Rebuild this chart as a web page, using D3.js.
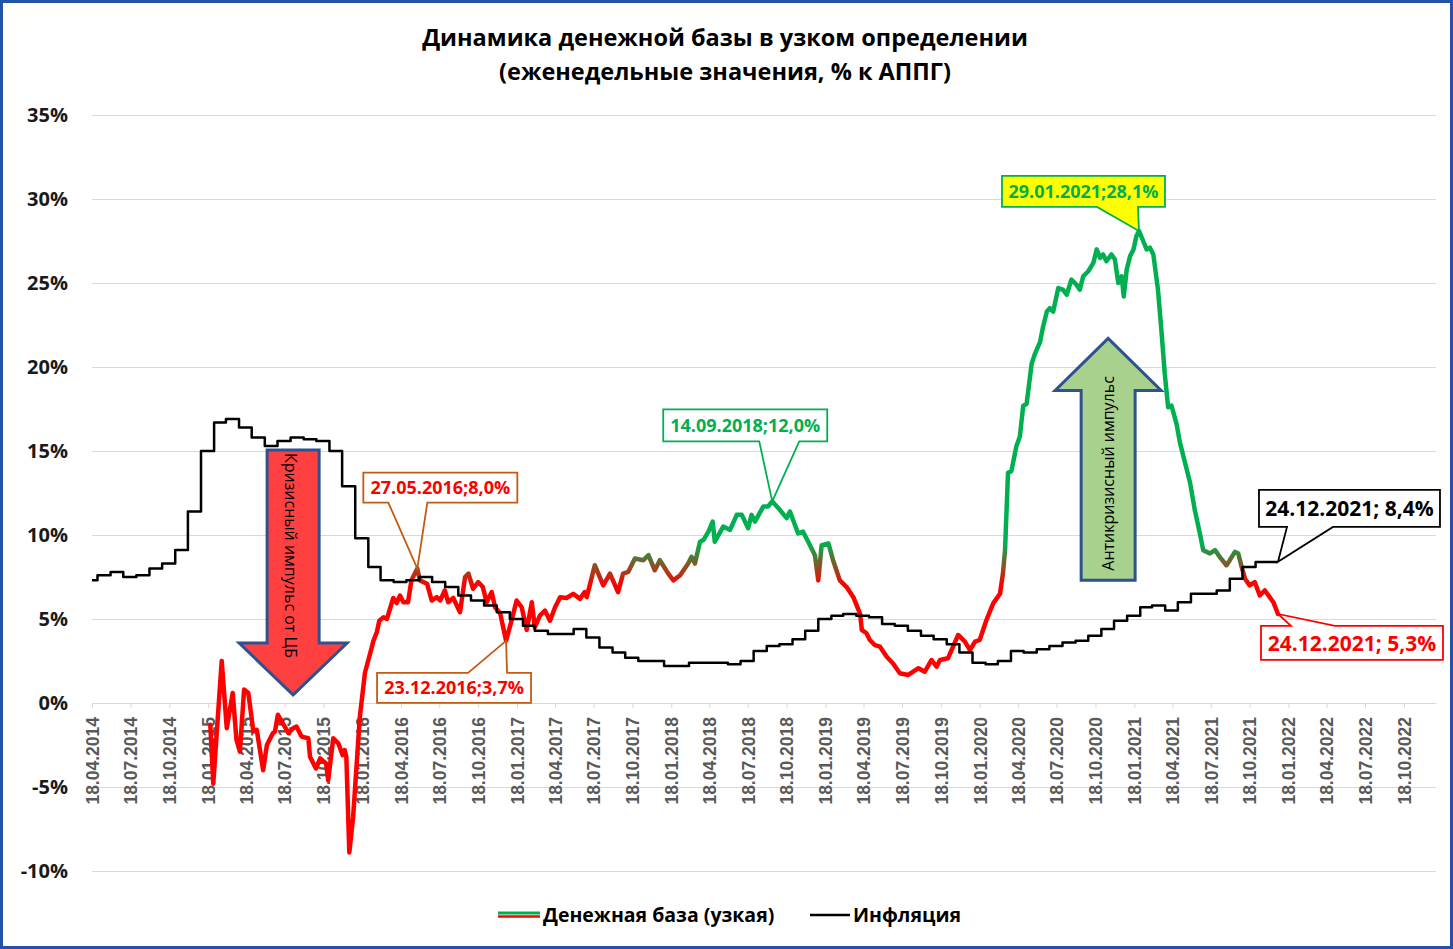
<!DOCTYPE html>
<html>
<head>
<meta charset="utf-8">
<script src="https://cdn.jsdelivr.net/npm/d3@7"></script>
<style>
  body { margin: 0; background: #fff; }
  svg { display: block; }
</style>
</head>
<body>
<svg id="chart"></svg>
<script>
var width = 1453;
var height = 949;

// ---- data ----
var titleLines = ["Динамика денежной базы в узком определении", "(еженедельные значения, % к АППГ)"];
var seriesNames = ["Денежная база (узкая)", "Инфляция"];

var yTicks = [-10, -5, 0, 5, 10, 15, 20, 25, 30, 35];
var tickLabels = [
  "18.04.2014","18.07.2014","18.10.2014","18.01.2015","18.04.2015","18.07.2015","18.10.2015",
  "18.01.2016","18.04.2016","18.07.2016","18.10.2016","18.01.2017","18.04.2017","18.07.2017",
  "18.10.2017","18.01.2018","18.04.2018","18.07.2018","18.10.2018","18.01.2019","18.04.2019",
  "18.07.2019","18.10.2019","18.01.2020","18.04.2020","18.07.2020","18.10.2020","18.01.2021",
  "18.04.2021","18.07.2021","18.10.2021","18.01.2022","18.04.2022","18.07.2022","18.10.2022"
];

// inflation, % y/y, one value per month starting April 2014
var inflStart = "2014-04-18";
var inflValues = [
  7.3, 7.6, 7.8, 7.5, 7.6, 8.0, 8.3, 9.1, 11.4,
  15.0, 16.7, 16.9, 16.4, 15.8, 15.3, 15.6, 15.8, 15.7, 15.6, 15.0, 12.9,
  9.8, 8.1, 7.3, 7.2, 7.3, 7.5, 7.2, 6.9, 6.4, 6.1, 5.8, 5.4,
  5.0, 4.6, 4.3, 4.1, 4.1, 4.4, 3.9, 3.3, 3.0, 2.7, 2.5, 2.5,
  2.2, 2.2, 2.4, 2.4, 2.4, 2.3, 2.5, 3.1, 3.4, 3.5, 3.8, 4.3,
  5.0, 5.2, 5.3, 5.2, 5.1, 4.7, 4.6, 4.3, 4.0, 3.8, 3.5, 3.0,
  2.4, 2.3, 2.5, 3.1, 3.0, 3.2, 3.4, 3.6, 3.7, 4.0, 4.4, 4.9,
  5.2, 5.7, 5.8, 5.5, 6.0, 6.5, 6.5, 6.7, 7.4, 8.1, 8.4, 8.4
];
var inflEnd = "2021-12-24";

// narrow money base, % y/y (weekly, sampled)
var baseDates = [
  "2015-01-23","2015-01-30","2015-02-19","2015-03-03","2015-03-17","2015-03-26","2015-04-03","2015-04-13",
  "2015-04-23","2015-05-05","2015-05-13","2015-05-28","2015-06-06","2015-06-20","2015-06-25","2015-07-02",
  "2015-07-11","2015-07-27","2015-08-07","2015-08-15","2015-08-27","2015-09-12","2015-09-16","2015-09-30",
  "2015-10-10","2015-10-24","2015-10-29","2015-11-10","2015-11-22","2015-12-02","2015-12-07","2015-12-11",
  "2015-12-18","2015-12-27","2016-01-12","2016-01-24","2016-02-09","2016-02-13","2016-02-21","2016-02-27",
  "2016-03-08","2016-03-16","2016-03-31","2016-04-08","2016-04-16","2016-04-24","2016-05-05","2016-05-13",
  "2016-05-27","2016-06-02","2016-06-19","2016-06-30","2016-07-12","2016-07-20","2016-07-31","2016-08-08",
  "2016-08-20","2016-09-05","2016-09-17","2016-09-25","2016-10-06","2016-10-18","2016-10-29","2016-11-07",
  "2016-11-19","2016-11-27","2016-12-09","2016-12-23","2017-01-05","2017-01-17","2017-01-29","2017-02-10",
  "2017-02-22","2017-03-01","2017-03-13","2017-03-25","2017-04-06","2017-04-18","2017-04-30","2017-05-15",
  "2017-05-31","2017-06-16","2017-06-27","2017-07-02","2017-07-10","2017-07-21","2017-08-10","2017-08-26",
  "2017-09-14","2017-09-26","2017-10-08","2017-10-24","2017-11-13","2017-11-25","2017-12-10","2017-12-22",
  "2018-01-11","2018-01-23","2018-02-08","2018-02-27","2018-03-07","2018-03-15","2018-03-27","2018-04-04",
  "2018-04-16","2018-04-26","2018-05-01","2018-05-21","2018-06-06","2018-06-22","2018-07-04","2018-07-19",
  "2018-07-27","2018-08-04","2018-08-24","2018-09-04","2018-09-14","2018-10-02","2018-10-18","2018-10-26",
  "2018-11-14","2018-11-26","2018-12-12","2018-12-24","2019-01-01","2019-01-09","2019-01-25","2019-02-05",
  "2019-02-21","2019-03-09","2019-03-25","2019-04-10","2019-04-14","2019-04-25","2019-05-03","2019-05-15",
  "2019-05-27","2019-06-12","2019-06-27","2019-07-13","2019-08-02","2019-08-26","2019-09-10","2019-09-26",
  "2019-10-08","2019-10-16","2019-11-04","2019-11-16","2019-11-28","2019-12-14","2019-12-26","2020-01-07",
  "2020-01-18","2020-02-03","2020-02-19","2020-03-06","2020-03-13","2020-03-18","2020-03-25","2020-04-02",
  "2020-04-14","2020-04-22","2020-04-30","2020-05-08","2020-05-20","2020-05-28","2020-06-09","2020-06-16",
  "2020-06-25","2020-07-02","2020-07-10","2020-07-22","2020-08-02","2020-08-11","2020-08-22","2020-09-03",
  "2020-09-11","2020-09-19","2020-10-01","2020-10-13","2020-10-21","2020-10-29","2020-11-05","2020-11-13",
  "2020-11-25","2020-12-03","2020-12-11","2020-12-19","2020-12-24","2020-12-31","2021-01-08","2021-01-16",
  "2021-01-23","2021-01-29","2021-02-08","2021-02-16","2021-02-24","2021-03-04","2021-03-15","2021-03-23",
  "2021-03-31","2021-04-08","2021-04-16","2021-04-28","2021-05-06","2021-05-18","2021-05-30","2021-06-10",
  "2021-06-22","2021-06-30","2021-07-16","2021-07-28","2021-08-08","2021-08-24","2021-09-01","2021-09-13",
  "2021-09-21","2021-09-29","2021-10-07","2021-10-18","2021-10-30","2021-11-11","2021-11-23","2021-12-13",
  "2021-12-24"
];
var baseValues = [
  -1.3, -4.8, 2.5, -1.5, 0.6, -2.2, -2.9, 0.8,
  0.6, -1.7, -1.6, -4.0, -2.5, -1.8, -1.7, -0.7,
  -1.1, -1.8, -1.5, -1.4, -2.0, -2.1, -3.2, -3.9,
  -3.3, -3.6, -4.6, -2.1, -2.4, -3.1, -2.8, -3.2,
  -8.9, -6.8, -0.8, 1.8, 3.3, 3.7, 4.2, 4.9,
  5.1, 5.0, 6.25, 5.95, 6.4, 6.0, 6.0, 7.3,
  8.0, 7.3, 7.1, 6.1, 6.3, 6.1, 6.7, 6.0,
  6.25, 5.4, 7.5, 7.7, 6.8, 7.2, 6.9, 6.0,
  6.6, 5.7, 5.35, 3.7, 4.9, 6.1, 5.7, 4.35,
  6.0, 4.5, 5.2, 5.5, 4.9, 5.7, 6.3, 6.25,
  6.5, 6.2, 6.6, 6.3, 7.1, 8.2, 7.0, 7.7,
  6.6, 7.7, 7.8, 8.6, 8.5, 8.8, 7.9, 8.5,
  7.7, 7.3, 7.6, 8.3, 8.7, 8.3, 9.6, 9.7,
  10.2, 10.8, 9.6, 10.5, 10.3, 11.2, 11.2, 10.4,
  11.2, 10.8, 11.7, 11.7, 12.0, 11.5, 11.0, 11.4,
  10.1, 10.2, 9.4, 8.8, 7.3, 9.4, 9.5, 8.5,
  7.3, 6.9, 6.3, 5.3, 4.35, 4.15, 3.75, 3.45,
  3.35, 2.75, 2.35, 1.77, 1.67, 2.07, 1.86, 2.56,
  2.16, 2.56, 2.66, 3.35, 4.05, 3.65, 3.15, 3.65,
  3.75, 4.94, 5.93, 6.5, 7.7, 9.1, 13.7, 13.8,
  15.3, 15.85, 17.7, 17.8, 20.2, 20.8, 21.5, 22.4,
  23.3, 23.5, 23.3, 24.7, 24.6, 24.3, 25.2, 24.9,
  24.6, 25.4, 25.7, 26.2, 27.0, 26.5, 26.7, 26.3,
  26.7, 26.4, 25.0, 25.4, 24.2, 25.8, 26.6, 27.0,
  27.8, 28.1, 27.5, 27.0, 27.1, 26.7, 24.6, 22.2,
  19.6, 17.6, 17.7, 16.6, 15.5, 14.3, 13.1, 11.5,
  10.1, 9.1, 8.9, 9.1, 8.7, 8.2, 8.5, 9.0,
  8.9, 8.1, 7.4, 7.0, 7.2, 6.4, 6.7, 6.0,
  5.3
];

// labelled points
var calloutDates = ["2016-05-27", "2016-12-23", "2018-09-14", "2021-01-29", "2021-12-24", "2021-12-24"];
var calloutValues = [8.0, 3.7, 12.0, 28.1, 8.4, 5.3];

var arrowTexts = ["Кризисный импульс от ЦБ", "Антикризисный импульс"];

// ---- scales ----
var parse = d3.timeParse("%Y-%m-%d");
var parseTick = d3.timeParse("%d.%m.%Y");
var fmtDate = d3.timeFormat("%d.%m.%Y");

var left = 92, right = 1436;
var x = d3.scaleTime()
    .domain([parse("2014-04-18"), parse("2023-01-02")])
    .range([left, right]);
var y = d3.scaleLinear()
    .domain([-10, 35])
    .range([871, 115]);

var baseData = baseDates.map((d, i) => ({date: parse(d), value: baseValues[i]}));

var inflData = inflValues.map((v, i) => {
  var d = d3.timeMonth.offset(parse("2014-04-01"), i);
  return {date: i === 0 ? parse(inflStart) : d, value: v};
});
inflData.push({date: parse(inflEnd), value: inflValues[inflValues.length - 1]});

var svg = d3.select("#chart")
    .attr("width", width)
    .attr("height", height);

svg.append("rect")
    .attr("x", 1.5).attr("y", 1.5)
    .attr("width", width - 3).attr("height", height - 3)
    .attr("fill", "#fff")
    .attr("stroke", "#2352a8")
    .attr("stroke-width", 3);

// title
svg.append("g").selectAll("text")
  .data(titleLines)
  .enter().append("text")
    .attr("x", 725)
    .attr("y", (d, i) => 46 + i * 34)
    .attr("text-anchor", "middle")
    .style("font-family", "'Open Sans', sans-serif")
    .style("font-weight", "bold")
    .style("font-size", "23.5px")
    .style("fill", "#000")
    .text(d => d);

// y axis + grid
var yAxis = d3.axisLeft(y)
    .tickValues(yTicks)
    .tickSize(-(right - left))
    .tickFormat(d => d + "%");

svg.append("g")
    .attr("transform", "translate(" + left + ",0)")
    .call(yAxis)
    .call(g => g.select(".domain").remove())
    .call(g => g.selectAll(".tick line").attr("stroke", "#d9d9d9"))
    .call(g => g.selectAll(".tick text")
        .attr("x", -24)
        .style("font-family", "'Open Sans', sans-serif")
        .style("font-weight", "bold")
        .style("font-size", "20px")
        .style("fill", "#1a1a1a"));

// x axis at 0%
var xAxis = d3.axisBottom(x)
    .tickValues(tickLabels.map(parseTick))
    .tickFormat(fmtDate)
    .tickSize(5)
    .tickSizeOuter(0);

svg.append("g")
    .attr("transform", "translate(0," + y(0) + ")")
    .call(xAxis)
    .call(g => g.select(".domain").attr("stroke", "#d9d9d9"))
    .call(g => g.selectAll(".tick line").attr("stroke", "#d9d9d9"))
    .call(g => g.selectAll(".tick text")
        .attr("transform", "rotate(-90)")
        .attr("text-anchor", "end")
        .attr("x", -14)
        .attr("y", 0)
        .attr("dy", "0.36em")
        .style("font-family", "'Liberation Sans', Arial, sans-serif")
        .style("font-weight", "bold")
        .style("font-size", "17.5px")
        .style("fill", "#595959"));

// colour of money base line depends on level
var defs = svg.append("defs");
var grad = defs.append("linearGradient")
    .attr("id", "baseGrad")
    .attr("gradientUnits", "userSpaceOnUse")
    .attr("x1", 0).attr("x2", 0)
    .attr("y1", y(9.5)).attr("y2", y(7.0));
grad.append("stop").attr("offset", 0).attr("stop-color", "#00b050");
grad.append("stop").attr("offset", 1).attr("stop-color", "#ff0000");

var baseLine = d3.line()
    .x(d => x(d.date))
    .y(d => y(d.value));

var inflLine = d3.line()
    .curve(d3.curveStepAfter)
    .x(d => x(d.date))
    .y(d => y(d.value));

svg.append("path")
    .datum(baseData)
    .attr("fill", "none")
    .attr("stroke", "url(#baseGrad)")
    .attr("stroke-width", 4.5)
    .attr("stroke-linejoin", "round")
    .attr("stroke-linecap", "round")
    .attr("d", baseLine);

svg.append("path")
    .datum(inflData)
    .attr("fill", "none")
    .attr("stroke", "#000")
    .attr("stroke-width", 2.5)
    .attr("stroke-linejoin", "round")
    .attr("d", inflLine);

// block arrows
function arrowDown(cx, top, neck, tip, bw, hw) {
  return "M" + (cx - bw) + "," + top + "H" + (cx + bw) + "V" + neck + "H" + (cx + hw) +
    "L" + cx + "," + tip + "L" + (cx - hw) + "," + neck + "H" + (cx - bw) + "Z";
}
var ax1 = x(parse("2015-08-07"));
svg.append("path")
    .attr("d", arrowDown(ax1, y(15.06), y(3.57), y(0.48), 26, 54))
    .attr("fill", "#ff4040")
    .attr("stroke", "#2f528f")
    .attr("stroke-width", 3);
svg.append("text")
    .attr("transform", "translate(" + (ax1 - 3) + "," + ((y(15.06) + y(3.57)) / 2 + 9) + ") rotate(90)")
    .attr("text-anchor", "middle")
    .attr("dy", "0.35em")
    .style("font-family", "'Open Sans', sans-serif")
    .style("font-size", "16px")
    .style("fill", "#000")
    .text(arrowTexts[0]);

var ax2 = x(parse("2020-11-17"));
svg.append("path")
    .attr("d", arrowDown(ax2, y(7.3), y(18.6), y(21.7), 27, 53))
    .attr("fill", "#a9d18e")
    .attr("stroke", "#2f528f")
    .attr("stroke-width", 3);
svg.append("text")
    .attr("transform", "translate(" + ax2 + "," + ((y(7.3) + y(18.6)) / 2 - 12) + ") rotate(-90)")
    .attr("text-anchor", "middle")
    .attr("dy", "0.35em")
    .style("font-family", "'Open Sans', sans-serif")
    .style("font-size", "16px")
    .style("fill", "#000")
    .text(arrowTexts[1]);

// callouts: box offsets relative to the labelled point
var calloutStyles = [
  {sep: ";",  l: -54,  r: 100, t: -96, b: -66, w0: -29, w1: 10, stroke: "#c55a11", color: "#ff0000", fill: "#fff", size: 18},
  {sep: ";",  l: -129, r: 25,  t: 32,  b: 62,  w0: -38, w1: 1,  stroke: "#c55a11", color: "#ff0000", fill: "#fff", size: 18},
  {sep: ";",  l: -109, r: 55,  t: -92, b: -60, w0: -13, w1: 27, stroke: "#00b050", color: "#00b050", fill: "#fff", size: 18},
  {sep: ";",  l: -137, r: 26,  t: -55, b: -24, w0: -42, w1: -1, stroke: "#00b050", color: "#00b050", fill: "#ffff00", size: 18, wedgeFill: true},
  {sep: "; ", l: -19,  r: 162, t: -72, b: -35, w0: 9,   w1: 55, stroke: "#000",    color: "#000",    fill: "#fff", size: 21},
  {sep: "; ", l: -17,  r: 165, t: 12,  b: 46,  w0: 13,  w1: 57, stroke: "#ff0000", color: "#ff0000", fill: "#fff", size: 21}
];

var fmtPct = v => d3.format(".1f")(v).replace(".", ",") + "%";

calloutDates.forEach((d, i) => {
  var s = calloutStyles[i];
  var px = x(parse(d)), py = y(calloutValues[i]);
  var L = px + s.l, R = px + s.r, T = py + s.t, B = py + s.b;
  var path;
  if (s.t < 0) {
    path = "M" + L + "," + T + "H" + R + "V" + B + "H" + (px + s.w1) + "L" + px + "," + py +
      "L" + (px + s.w0) + "," + B + "H" + L + "Z";
  } else {
    path = "M" + L + "," + T + "H" + (px + s.w0) + "L" + px + "," + py + "L" + (px + s.w1) + "," + T +
      "H" + R + "V" + B + "H" + L + "Z";
  }
  var g = svg.append("g");
  if (!s.wedgeFill) {
    g.append("rect")
        .attr("x", L).attr("y", T)
        .attr("width", R - L).attr("height", B - T)
        .attr("fill", s.fill);
  }
  g.append("path")
      .attr("d", path)
      .attr("fill", s.wedgeFill ? s.fill : "none")
      .attr("stroke", s.stroke)
      .attr("stroke-width", 1.8);
  g.append("text")
      .attr("x", (L + R) / 2)
      .attr("y", (T + B) / 2)
      .attr("dy", "0.36em")
      .attr("text-anchor", "middle")
      .style("font-family", "'Open Sans', sans-serif")
      .style("font-weight", "bold")
      .style("font-size", s.size + "px")
      .style("fill", s.color)
      .text(fmtDate(parse(d)) + s.sep + fmtPct(calloutValues[i]));
});

// legend
var legend = svg.append("g");
legend.append("line")
    .attr("x1", 498).attr("x2", 540).attr("y1", 913).attr("y2", 913)
    .attr("stroke", "#00b050").attr("stroke-width", 3);
legend.append("line")
    .attr("x1", 498).attr("x2", 540).attr("y1", 916.5).attr("y2", 916.5)
    .attr("stroke", "#ff0000").attr("stroke-width", 2.5);
legend.append("line")
    .attr("x1", 810).attr("x2", 850).attr("y1", 915).attr("y2", 915)
    .attr("stroke", "#000").attr("stroke-width", 2.5);
legend.selectAll("text")
  .data(seriesNames)
  .enter().append("text")
    .attr("x", (d, i) => i === 0 ? 543 : 853)
    .attr("y", 915)
    .attr("dy", "0.35em")
    .style("font-family", "'Open Sans', sans-serif")
    .style("font-weight", "bold")
    .style("font-size", "19.5px")
    .style("fill", "#000")
    .text(d => d);
</script>
</body>
</html>
